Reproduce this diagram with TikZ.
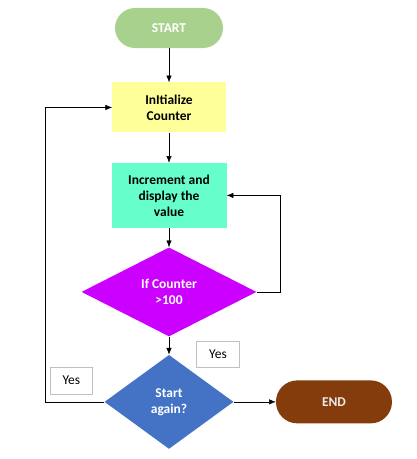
\documentclass[tikz,border=0pt]{standalone}
\usepackage{fontspec}
\setmainfont{Carlito}
\usetikzlibrary{arrows.meta,positioning,shapes.geometric}
\definecolor{startc}{HTML}{A9D18E}
\definecolor{initc}{HTML}{FFFF99}
\definecolor{incrc}{HTML}{66FFCC}
\definecolor{ifc}{HTML}{CC00FF}
\definecolor{againc}{HTML}{4472C4}
\definecolor{endc}{HTML}{843C0C}
\definecolor{yesline}{HTML}{BFBFBF}

\begin{document}
\begin{tikzpicture}[
  font=\fontsize{11.5}{13.6}\selectfont\bfseries,
  term/.style={rounded corners=0.6cm, align=center, minimum width=3.24cm, minimum height=1.2cm},
  procbox/.style={align=center, minimum width=3.4cm, inner sep=2pt},
  decide/.style={diamond, align=center, inner sep=0pt},
  yesbox/.style={draw=yesline, fill=white, font=\fontsize{11.5}{13.6}\selectfont, minimum width=1.28cm, minimum height=0.82cm},
  >={Latex[length=2mm, width=1.6mm]}
]
\useasboundingbox (-5.07,0.84) rectangle (7.44,-12.93);

\node[term, fill=startc, text=white] (start) {START};
\node[procbox, fill=initc, minimum height=1.5cm, below=1.02cm of start] (init) {InItialize\\Counter};
\node[procbox, fill=incrc, minimum width=3.45cm, minimum height=1.95cm, below=0.9cm of init] (incr) {Increment and\\display the\\value};
\node[decide, fill=ifc, text=white, minimum width=5.25cm, minimum height=2.67cm, below=0.57cm of incr] (ifcount) {If Counter\\>100};
\node[decide, fill=againc, text=white, minimum width=3.87cm, minimum height=2.82cm, below=0.54cm of ifcount] (again) {Start\\again?};
\node[term, fill=endc, text=white!92!black, minimum width=3.48cm, minimum height=1.29cm, rounded corners=0.64cm, right=1.26cm of again] (end) {END};

\node[yesbox] at (-2.93,-10.58) (yesa) {Yes};
\node[yesbox, minimum height=0.78cm] at (1.47,-9.78) (yesb) {Yes};

\draw[->] (start) -- (init);
\draw[->] (init) -- (incr);
\draw[->] (incr) -- (ifcount);
\draw[->] (ifcount) -- (again);
\draw[->] (again) -- (end);
\draw[->] (ifcount.east) -- ++(0.69,0) |- (incr.east);
\draw[->] (again.west) -- ++(-1.77,0) |- (init.west);

\end{tikzpicture}
\end{document}
